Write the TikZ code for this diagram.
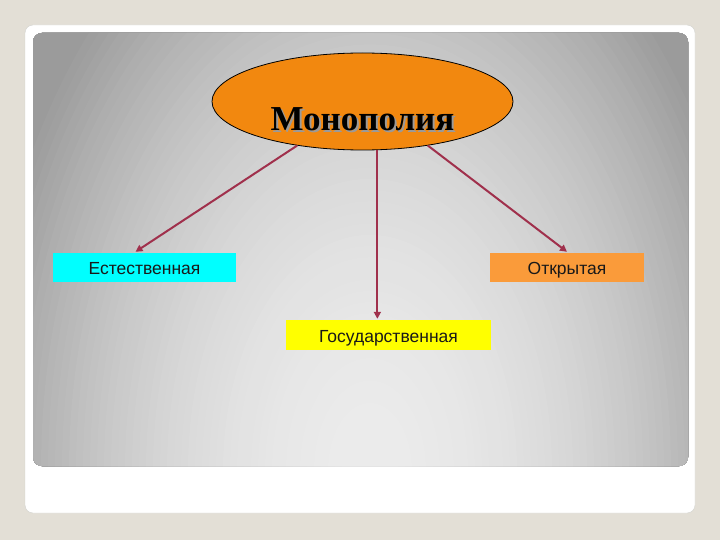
\documentclass[tikz,border=0pt]{standalone}
\usepackage{fontspec}
\setmainfont{Liberation Serif}
\newfontfamily\boxfont{Liberation Sans}
\usetikzlibrary{shapes.geometric,arrows.meta,calc}
\definecolor{bgc}{HTML}{E3DFD6}
\definecolor{framec}{HTML}{D2D2CE}
\definecolor{ellc}{HTML}{F2880F}
\definecolor{otkc}{HTML}{FA9B3A}
\definecolor{estc}{HTML}{00FFFF}
\definecolor{govc}{HTML}{FFFF00}
\definecolor{arrc}{HTML}{A0304C}
\definecolor{shadowc}{HTML}{9A9A9A}
\newcommand\shtext[1]{\makebox[0pt][l]{\hspace{2pt}\raisebox{-2pt}{\color{shadowc}#1}}#1}
\tikzset{
  lbl/.style={inner sep=0pt, text height=14pt, text depth=0pt, font=\boxfont\fontsize{17.5}{20}\selectfont, text=black!90},
  arr/.style={draw=arrc, line width=2pt, -{Triangle[length=7pt,width=7pt]}}
}
\begin{document}
\begin{tikzpicture}[x=1pt,y=-1pt]
\useasboundingbox (0,0) rectangle (720,540);
\fill[bgc] (0,0) rectangle (720,540);
\draw[framec, fill=white, rounded corners=8pt] (25,25) rectangle (695,513);
\begin{scope}
\clip[rounded corners=9pt] (33,33) rectangle (688,466);
\foreach \i in {75,74,...,1}{
  \pgfmathsetmacro\f{\i/50}
  \pgfmathtruncatemacro\g{max(155,236-62*\f*\f)}
  \definecolor{tmpc}{RGB}{\g,\g,\g}
  \fill[tmpc] (370,470) ellipse ({350*\f} and {560*\f});
}
\end{scope}
\node[ellipse, draw=black, line width=0.8pt, fill=ellc, minimum width=301pt, minimum height=97pt, inner sep=0pt, text height=59pt, text depth=0pt, font=\fontsize{35}{40}\selectfont\bfseries] (mono) at (362.5,101.5) {\shtext{Монополия}};
\node[lbl, fill=estc, minimum width=183pt, minimum height=29pt] (est) at (144.5,267.5) {Естественная};
\node[lbl, fill=otkc, minimum width=154pt, minimum height=29pt] (otk) at (567,267.5) {Открытая};
\node[lbl, fill=govc, minimum width=205pt, minimum height=30pt] (gov) at (388.5,335) {Государственная};
\draw[arr] (mono.214) -- ($(est.north)+(-9,-1)$);
\draw[arr] (mono.326) -- ($(otk.north)+(0,-1)$);
\draw[arr] (mono.287) -- ($(mono.287 |- gov.north)+(0,-1)$);
\end{tikzpicture}
\end{document}
